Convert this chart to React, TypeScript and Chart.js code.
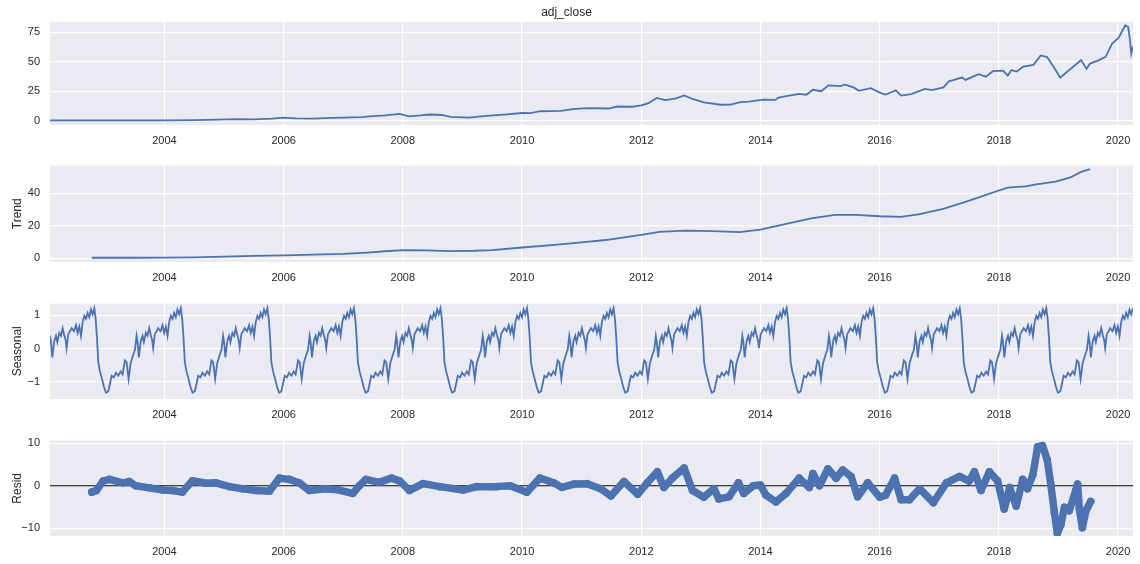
import { useEffect, useRef } from 'react';
import { Chart, registerables } from 'chart.js';
Chart.register(...registerables);

const X_MIN = 2002.08;
const X_MAX = 2020.25;
const YEAR_TICKS = [2004, 2006, 2008, 2010, 2012, 2014, 2016, 2018, 2020];

// adj_close (years, price)
const CLOSE_YEARS = [
  2002.08, 2002.5, 2003.0, 2003.5, 2004.0, 2004.5, 2004.9, 2005.2, 2005.5, 2005.8,
  2006.0, 2006.2, 2006.5, 2006.8, 2007.0, 2007.3, 2007.5, 2007.7, 2007.95, 2008.1,
  2008.3, 2008.45, 2008.65, 2008.8, 2009.1, 2009.4, 2009.7, 2010.0, 2010.15, 2010.3,
  2010.65, 2010.85, 2011.1, 2011.45, 2011.6, 2011.85, 2012.0, 2012.12, 2012.26, 2012.4,
  2012.57, 2012.72, 2012.86, 2013.05, 2013.33, 2013.5, 2013.66, 2013.8, 2014.05, 2014.25,
  2014.3, 2014.48, 2014.65, 2014.77, 2014.88, 2015.02, 2015.14, 2015.34, 2015.42, 2015.57,
  2015.65, 2015.85, 2016.02, 2016.1, 2016.27, 2016.36, 2016.53, 2016.76, 2016.87, 2017.07,
  2017.16, 2017.38, 2017.44, 2017.66, 2017.78, 2017.9, 2018.07, 2018.15, 2018.21, 2018.3,
  2018.41, 2018.58, 2018.7, 2018.81, 2018.93, 2019.03, 2019.15, 2019.38, 2019.47, 2019.53,
  2019.67, 2019.79, 2019.9, 2020.01, 2020.12, 2020.17, 2020.2, 2020.22, 2020.25,
];
const CLOSE_VALUES = [
  0.3, 0.25, 0.2, 0.25, 0.3, 0.5, 0.9, 1.3, 1.1, 1.7,
  2.5, 2.0, 1.8, 2.4, 2.6, 3.0, 3.8, 4.5, 5.8, 3.6,
  4.4, 5.2, 4.8, 3.2, 2.6, 4.0, 5.2, 6.5, 6.4, 8.0,
  8.3, 9.8, 10.6, 10.3, 12.0, 11.8, 12.9, 14.8, 19.3, 17.5,
  18.7, 21.4, 18.4, 15.5, 13.5, 13.6, 15.8, 16.1, 17.8, 17.6,
  19.5, 21.3, 22.7, 22.0, 26.2, 25.0, 30.0, 29.3, 30.6, 28.0,
  25.3, 27.6, 23.4, 22.1, 25.8, 21.3, 22.5, 27.0, 25.9, 28.3,
  33.4, 36.6, 34.6, 39.5, 37.4, 42.0, 42.5, 38.3, 43.0, 41.7,
  46.0, 47.4, 55.4, 54.0, 44.8, 36.5, 41.7, 51.5, 44.0, 48.5,
  51.2, 54.2, 65.5, 70.5, 81.0, 79.5, 68.0, 57.0, 63.0,
];
const CLOSE_TICKS = [0, 25, 50, 75];

// Trend
const TREND_YEARS = [
  2002.78, 2003.5, 2004.0, 2004.5, 2005.0, 2005.5, 2006.0, 2006.5, 2007.0, 2007.4,
  2007.7, 2008.0, 2008.4, 2008.8, 2009.2, 2009.5, 2010.0, 2010.5, 2011.0, 2011.4,
  2012.0, 2012.3, 2012.75, 2013.2, 2013.65, 2014.0, 2014.45, 2014.85, 2015.25, 2015.6,
  2016.0, 2016.35, 2016.65, 2017.05, 2017.4, 2017.7, 2018.0, 2018.15, 2018.45, 2018.6,
  2018.95, 2019.2, 2019.38, 2019.53,
];
const TREND_VALUES = [
  0.3, 0.3, 0.4, 0.6, 1.0, 1.4, 1.8, 2.2, 2.7, 3.5,
  4.3, 5.0, 4.9, 4.4, 4.6, 5.0, 6.6, 8.1, 9.8, 11.2,
  14.4, 16.2, 17.0, 16.6, 16.0, 17.6, 21.2, 24.5, 26.6, 26.7,
  25.8, 25.4, 26.9, 30.2, 34.2, 37.8, 41.6, 43.4, 44.1, 45.2,
  47.1, 49.6, 53.0, 54.7,
];
const TREND_TICKS = [0, 20, 40];

// Seasonal: one period (365 trading days, ~1.45 yr), offsets from the first date
const SEASON_PERIOD = 1.452;
const SEASON_PHASE = [
  0.0, 0.017, 0.039, 0.056, 0.073, 0.101, 0.123, 0.156, 0.184, 0.212,
  0.235, 0.263, 0.279, 0.307, 0.335, 0.363, 0.402, 0.436, 0.464, 0.492,
  0.52, 0.548, 0.576, 0.604, 0.631, 0.659, 0.687, 0.715, 0.743, 0.766,
  0.788, 0.81, 0.838, 0.866, 0.905, 0.939, 0.978, 1.006, 1.034, 1.073,
  1.106, 1.146, 1.185, 1.218, 1.257, 1.285, 1.319, 1.352, 1.397, 1.425,
];
const SEASON_VALUES = [
  0.38, 0.19, -0.27, 0.01, 0.24, 0.38, 0.19, 0.47, 0.38, 0.61,
  0.43, 0.24, 0.01, 0.43, 0.52, 0.61, 0.52, 0.7, 0.47, 0.66,
  0.38, 0.8, 0.98, 0.89, 1.07, 0.94, 1.17, 1.03, 1.21, 0.89,
  0.33, -0.41, -0.69, -0.87, -1.15, -1.33, -1.29, -1.06, -0.82, -0.87,
  -0.73, -0.82, -0.69, -0.78, -0.36, -0.41, -0.92, -0.45, -0.18, -0.04,
];
const SEASON_TICKS = [-1, 0, 1];

// Resid
const RESID_YEARS = [
  2002.78, 2002.86, 2002.97, 2003.08, 2003.3, 2003.41, 2003.52, 2003.75, 2003.97, 2004.13,
  2004.3, 2004.47, 2004.7, 2004.86, 2005.09, 2005.31, 2005.54, 2005.76, 2005.93, 2006.1,
  2006.26, 2006.43, 2006.71, 2006.93, 2007.16, 2007.27, 2007.38, 2007.6, 2007.81, 2007.95,
  2008.11, 2008.34, 2008.62, 2009.01, 2009.24, 2009.57, 2009.8, 2010.08, 2010.3, 2010.53,
  2010.67, 2010.87, 2011.09, 2011.32, 2011.49, 2011.71, 2011.94, 2012.1, 2012.27, 2012.38,
  2012.52, 2012.72, 2012.86, 2013.05, 2013.22, 2013.3, 2013.47, 2013.63, 2013.72, 2013.88,
  2014.0, 2014.09, 2014.26, 2014.43, 2014.65, 2014.82, 2014.88, 2014.99, 2015.13, 2015.27,
  2015.38, 2015.52, 2015.63, 2015.8, 2016.0, 2016.1, 2016.25, 2016.36, 2016.5, 2016.67,
  2016.9, 2017.12, 2017.34, 2017.5, 2017.59, 2017.7, 2017.84, 2017.98, 2018.09, 2018.18,
  2018.29, 2018.4, 2018.48, 2018.57, 2018.65, 2018.73, 2018.81, 2018.87, 2018.93, 2018.98,
  2019.04, 2019.1, 2019.18, 2019.29, 2019.32, 2019.35, 2019.4, 2019.46, 2019.54,
];
const RESID_VALUES = [
  -1.5, -1.1, 1.1, 1.5, 0.7, 1.0, 0.0, -0.5, -1.0, -1.1,
  -1.5, 1.2, 0.6, 0.7, -0.2, -0.7, -1.1, -1.3, 1.8, 1.5,
  0.7, -1.1, -0.7, -1.0, -1.8, 0.0, 1.5, 0.8, 1.8, 1.1,
  -1.1, 0.5, -0.2, -1.0, -0.2, -0.2, 0.0, -1.5, 1.8, 0.7,
  -0.4, 0.4, 0.5, -0.7, -2.4, 1.0, -2.0, 0.7, 3.3, -0.4,
  1.8, 4.2, -1.1, -2.7, -0.7, -3.1, -2.6, 0.7, -1.8, 0.0,
  0.2, -2.2, -3.8, -1.8, 1.8, -0.4, 2.9, 0.0, 4.0, 1.8,
  3.7, 2.2, -2.6, 0.7, -2.7, -2.2, 1.8, -3.3, -3.3, -0.7,
  -4.0, 0.7, 2.2, 1.1, 3.3, -1.1, 3.3, 1.1, -5.5, -0.4,
  -4.8, 1.5, -0.7, 2.6, 9.2, 9.5, 6.2, 0.4, -6.2, -11.2,
  -9.2, -5.1, -5.9, -1.1, 0.4, -5.5, -9.9, -5.9, -3.7,
];
const RESID_TICKS = [-10, 0, 10];

const BLUE = '#4c72b0';
const TEXT = '#262626';
const FONT = '"Liberation Sans", Arial, sans-serif';

const pairs = (xs: number[], ys: number[]) => xs.map((x, i) => ({ x, y: ys[i] }));

// the seasonal component repeats the same period across the whole range
function seasonalPoints() {
  const pts: { x: number; y: number }[] = [];
  for (let k = 0; X_MIN + k * SEASON_PERIOD <= X_MAX; k++) {
    SEASON_PHASE.forEach((p, i) => {
      const x = X_MIN + k * SEASON_PERIOD + p;
      if (x <= X_MAX) pts.push({ x, y: SEASON_VALUES[i] });
    });
  }
  return pts;
}

const plotBg = {
  id: 'plotBg',
  beforeDraw(chart: any) {
    const { ctx, chartArea: a } = chart;
    ctx.save();
    ctx.fillStyle = '#eaeaf2';
    ctx.fillRect(a.left, a.top, a.width, a.height);
    ctx.restore();
  },
};

type PanelProps = {
  top: number;
  areaH: number;
  title?: string;
  yTitle?: string;
  yMin: number;
  yMax: number;
  yTicks: number[];
  datasets: any[];
};

function Panel({ top, areaH, title, yTitle, yMin, yMax, yTicks, datasets }: PanelProps) {
  const ref = useRef<HTMLCanvasElement>(null);
  const padTop = title ? 0 : 10;
  const titleH = title ? 22 : 0;
  const height = padTop + titleH + areaH + 30;

  useEffect(() => {
    if (!ref.current) return;
    const chart = new Chart(ref.current, {
      type: 'line',
      data: { datasets },
      plugins: [plotBg],
      options: {
        animation: false,
        responsive: true,
        maintainAspectRatio: false,
        layout: { padding: { top: padTop, left: 0, right: 7, bottom: 0 } },
        plugins: {
          legend: { display: false },
          tooltip: { enabled: false },
          title: {
            display: !!title,
            text: title,
            color: TEXT,
            font: { family: FONT, size: 12, weight: 'normal' },
            padding: { top: 5, bottom: 2.6 },
          },
        },
        scales: {
          x: {
            type: 'linear',
            min: X_MIN,
            max: X_MAX,
            afterBuildTicks: (s: any) => { s.ticks = YEAR_TICKS.map(v => ({ value: v })); },
            afterFit: (s: any) => { s.height = 30; },
            border: { display: false },
            grid: { color: '#ffffff', lineWidth: 1.2, drawTicks: false },
            ticks: {
              color: TEXT,
              font: { family: FONT, size: 11 },
              padding: 9,
              maxRotation: 0,
              autoSkip: false,
              callback: (v: any) => String(v),
            },
          },
          y: {
            min: yMin,
            max: yMax,
            afterBuildTicks: (s: any) => { s.ticks = yTicks.map(v => ({ value: v })); },
            afterFit: (s: any) => { s.width = 50; },
            border: { display: false },
            grid: { color: '#ffffff', lineWidth: 1.2, drawTicks: false },
            title: {
              display: !!yTitle,
              text: yTitle,
              color: TEXT,
              font: { family: FONT, size: 12 },
              padding: { top: 10, bottom: 0 },
            },
            ticks: {
              color: TEXT,
              font: { family: FONT, size: 11 },
              padding: 10,
              callback: (v: any) => String(v).replace('-', '\u2212'),
            },
          },
        },
      },
    } as any);
    return () => chart.destroy();
  }, []);

  return (
    <div style={{ position: 'absolute', left: 0, top: top - padTop - titleH, width: 1140, height }}>
      <canvas ref={ref} />
    </div>
  );
}

const lineStyle = {
  borderColor: BLUE,
  borderWidth: 1.8,
  pointRadius: 0,
  tension: 0,
  fill: false,
};

export default function App() {
  return (
    <div style={{ position: 'fixed', left: 0, top: 0, width: 1140, height: 564, background: '#fff', overflow: 'hidden' }}>
      <Panel
        top={22} areaH={103} title="adj_close"
        yMin={-3.7} yMax={83.8} yTicks={CLOSE_TICKS}
        datasets={[{ data: pairs(CLOSE_YEARS, CLOSE_VALUES), ...lineStyle }]}
      />
      <Panel
        top={159} areaH={103} yTitle="Trend"
        yMin={-2.3} yMax={56.9} yTicks={TREND_TICKS}
        datasets={[{ data: pairs(TREND_YEARS, TREND_VALUES), ...lineStyle }]}
      />
      <Panel
        top={297} areaH={102} yTitle="Seasonal"
        yMin={-1.52} yMax={1.35} yTicks={SEASON_TICKS}
        datasets={[{ data: seasonalPoints(), ...lineStyle }]}
      />
      <Panel
        top={434} areaH={102} yTitle="Resid"
        yMin={-11.85} yMax={10.66} yTicks={RESID_TICKS}
        datasets={[
          {
            data: pairs(RESID_YEARS, RESID_VALUES),
            borderColor: BLUE,
            borderWidth: 7.5,
            borderJoinStyle: 'round',
            borderCapStyle: 'round',
            pointRadius: 3.8,
            pointBorderWidth: 0,
            pointBackgroundColor: BLUE,
            tension: 0,
            order: 1,
          },
          {
            data: [{ x: X_MIN, y: 0 }, { x: X_MAX, y: 0 }],
            borderColor: '#000000',
            borderWidth: 1,
            pointRadius: 0,
            order: 2,
          },
        ]}
      />
    </div>
  );
}
